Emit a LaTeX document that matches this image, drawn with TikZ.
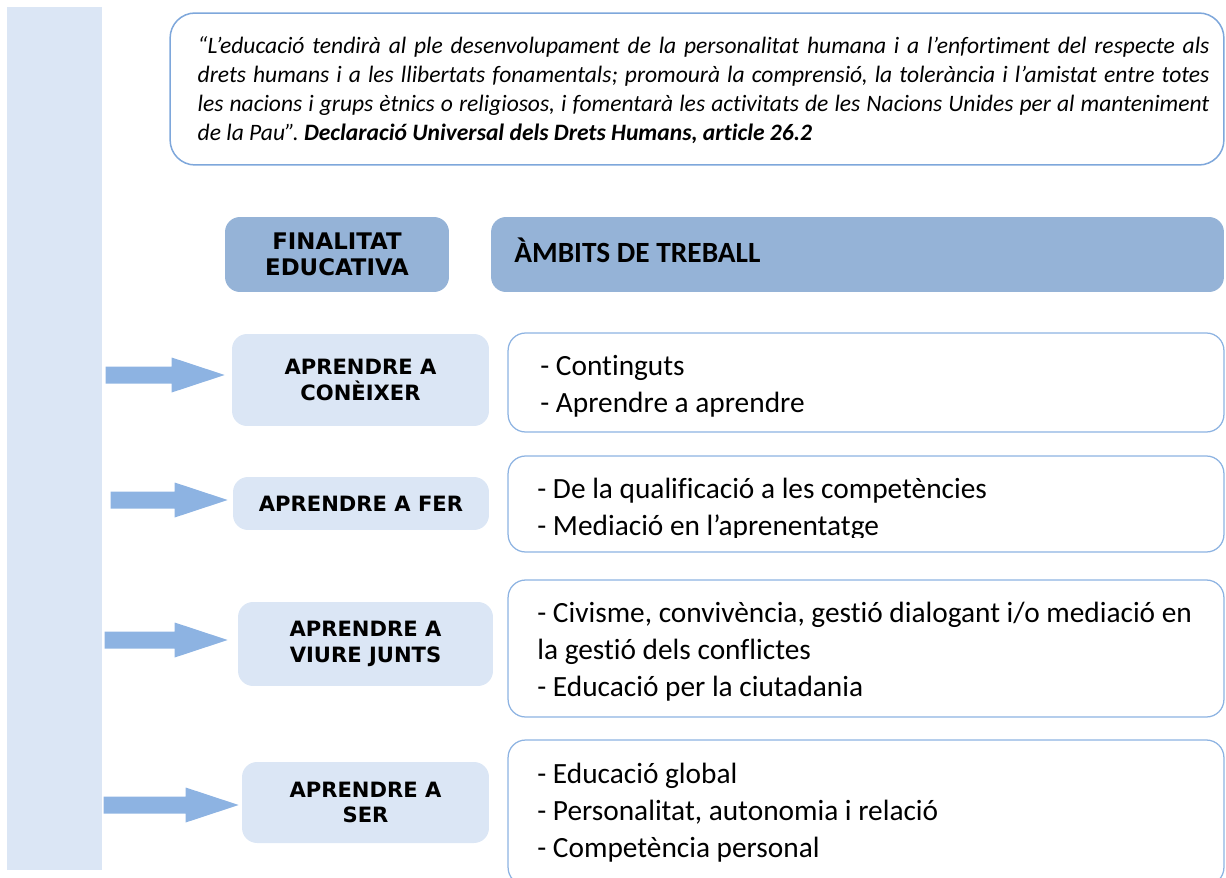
\documentclass[tikz,border=0pt]{standalone}
\usepackage{fontspec}
\setmainfont{Carlito}[Ligatures=NoCommon]
\newfontfamily\capsfont{DejaVu Sans}
\usetikzlibrary{calc}
\definecolor{barblue}{HTML}{DBE6F5}
\definecolor{headblue}{HTML}{95B3D7}
\definecolor{lineblue}{HTML}{8DB3E2}
\definecolor{quoteline}{HTML}{7EA7DB}
\frenchspacing
\newcommand{\quoteline}[1]{\makebox[20.24cm][s]{#1}}

\begin{document}
\begin{tikzpicture}[x=0.02cm, y=-0.02cm]
  \tikzstyle{sidebar} = [rectangle, fill=barblue, minimum width=1.9cm, minimum height=17.26cm, inner sep=0]
  \tikzstyle{quotebox} = [rectangle, rounded corners=0.5cm, draw=quoteline, fill=white, line width=0.3mm, minimum width=21.08cm, minimum height=3.04cm]
  \tikzstyle{quotetext} = [anchor=west, align=left, inner sep=0, font=\fontsize{13.4}{16.5}\selectfont\itshape]
  \tikzstyle{headbox} = [rectangle, rounded corners=0.3cm, fill=headblue, minimum height=1.5cm]
  \tikzstyle{goalbox} = [rectangle, rounded corners=0.3cm, fill=barblue, align=center, font=\capsfont\bfseries\fontsize{12}{14.7}\selectfont]
  \tikzstyle{areabox} = [rectangle, rounded corners=0.35cm, draw=lineblue, fill=white, line width=0.25mm, minimum width=14.32cm]
  \tikzstyle{areatext} = [anchor=west, align=left, inner sep=0, font=\fontsize{16.7}{21}\selectfont]
  \tikzstyle{bigarrow} = [fill=lineblue]

  \useasboundingbox (0,0) rectangle (1226,878);

  \node [sidebar] at (54.5,438.5) (bar) {};
  \node [quotebox] at (697,89) (quote) {};
  \node [quotetext] at ($(quote.west)+(28,1)$) (quotetxt) {\quoteline{“L’educació tendirà al ple desenvolupament de la personalitat humana i a l’enfortiment del respecte als}\\
    \quoteline{drets humans i a les llibertats fonamentals; promourà la comprensió, la tolerància i l’amistat entre totes}\\
    \quoteline{les nacions i grups ètnics o religiosos, i fomentarà les activitats de les Nacions Unides per al manteniment}\\
    de la Pau”. \textbf{Declaració Universal dels Drets Humans, article 26.2}};

  \node [headbox, minimum width=4.48cm, align=center, font=\capsfont\bfseries\fontsize{13}{14.7}\selectfont] at (337,254.5) (finalitat) {FINALITAT\\EDUCATIVA};
  \node [headbox, minimum width=14.66cm] at (857.5,254.5) (ambits) {};
  \node [anchor=west, inner sep=0, font=\bfseries\fontsize{16.7}{18}\selectfont] at (514,250) (ambitstxt) {ÀMBITS DE TREBALL};

  \node [goalbox, minimum width=5.14cm, minimum height=1.84cm] at (360.5,380) (coneixer) {APRENDRE A\\CONÈIXER};
  \node [goalbox, minimum width=5.12cm, minimum height=1.06cm] at (361,503.5) (fer) {APRENDRE A FER};
  \node [goalbox, minimum width=5.1cm, minimum height=1.68cm] at (365.5,644) (viure) {APRENDRE A\\VIURE JUNTS};
  \node [goalbox, minimum width=4.94cm, minimum height=1.62cm] at (365.5,802.5) (ser) {APRENDRE A\\SER};

  \node [areabox, minimum height=1.98cm] at (866,382.5) (area1) {};
  \node [areabox, minimum height=1.92cm] at (866,504) (area2) {};
  \node [areabox, minimum height=2.74cm] at (866,648.5) (area3) {};
  \node [areabox, minimum height=2.9cm] at (866,812.5) (area4) {};

  \node [areatext] at (540,386) (text1) {- Continguts\\- Aprendre a aprendre};
  \begin{scope}
    \clip (area2.north west) rectangle ([yshift=0.3cm]area2.south east);
    \node [areatext] at (537,509.5) (text2) {- De la qualificació a les competències\\- Mediació en l’aprenentatge};
  \end{scope}
  \node [areatext] at (537,652) (text3) {- Civisme, convivència, gestió dialogant i/o mediació en\\la gestió dels conflictes\\- Educació per la ciutadania};
  \node [areatext] at (537,812.5) (text4) {- Educació global\\- Personalitat, autonomia i relació\\- Competència personal};

  \coordinate (tip1) at ($(coneixer.west)+(-7,-5)$);
  \coordinate (tip2) at ($(fer.west)+(-5,-3.5)$);
  \coordinate (tip3) at ($(viure.west)+(-10,-4)$);
  \coordinate (tip4) at ($(ser.west)+(-3,2.5)$);

  \fill [bigarrow] (tip1) -- ++(-53,-17.5) -- ++(0,9) -- ++(-66,0) -- ++(0,17) -- ++(66,0) -- ++(0,9) -- cycle;
  \fill [bigarrow] (tip2) -- ++(-53,-17.5) -- ++(0,9) -- ++(-64,0) -- ++(0,17) -- ++(64,0) -- ++(0,9) -- cycle;
  \fill [bigarrow] (tip3) -- ++(-53,-17.5) -- ++(0,9) -- ++(-70,0) -- ++(0,17) -- ++(70,0) -- ++(0,9) -- cycle;
  \fill [bigarrow] (tip4) -- ++(-53,-17.5) -- ++(0,9) -- ++(-82,0) -- ++(0,17) -- ++(82,0) -- ++(0,9) -- cycle;
\end{tikzpicture}
\end{document}
